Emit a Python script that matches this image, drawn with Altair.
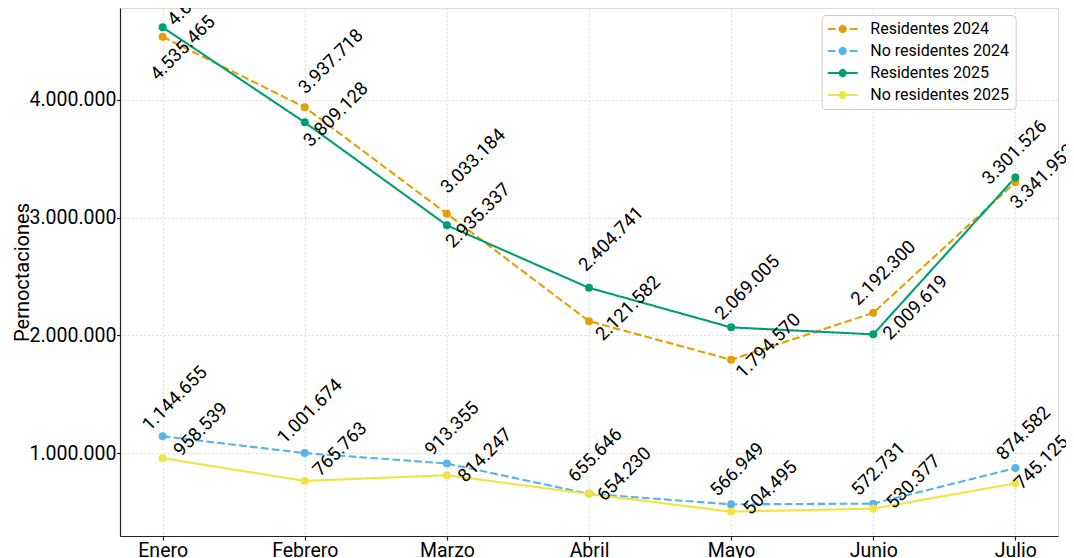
import altair as alt
import pandas as pd

# ---------------- data ----------------
months = ["Enero", "Febrero", "Marzo", "Abril", "Mayo", "Junio", "Julio"]
series_names = ["Residentes 2024", "No residentes 2024", "Residentes 2025", "No residentes 2025"]

residentes_2024 = [4535465, 3937718, 3033184, 2121582, 1794570, 2192300, 3301526]
no_residentes_2024 = [1144655, 1001674, 913355, 655646, 566949, 572731, 874582]
residentes_2025 = [4616374, 3809128, 2935337, 2404741, 2069005, 2009619, 3341952]
no_residentes_2025 = [958539, 765763, 814247, 654230, 504495, 530377, 745125]

y_tick_values = [1000000, 2000000, 3000000, 4000000]

# ---------------- styles ----------------
colors = ["#E69F00", "#56B4E9", "#009E73", "#F0E442"]
dashes = [[7.7, 3.3], [7.7, 3.3], [1, 0], [1, 0]]
widths = [2.1, 2.1, 2.1, 1.4]

Y_MIN, Y_MAX = 298000, 4780000
PLOT_W, PLOT_H = 938, 528

# offset (px) of each value label's centre from its point
label_dx = {
    "Residentes 2024": [20, 26, 26, 39, 37, 10, -1],
    "No residentes 2024": [12, 5, 5, 6, 6, 5, 8],
    "Residentes 2025": [37, 31, 31, 22, 16, 42, 27],
    "No residentes 2025": [38, 35, 38, 35, 39, 40, 26],
}
label_dy = {
    "Residentes 2024": [11, -46, -53, -13, -14, -40, -30],
    "No residentes 2024": [-38, -42, -35, -39, -35, -35, -35],
    "Residentes 2025": [-34, -8, -10, -49, -40, -27, -1],
    "No residentes 2025": [-29, -32, -20, -20, -24, -27, -21],
}

values_by_series = {
    "Residentes 2024": residentes_2024,
    "No residentes 2024": no_residentes_2024,
    "Residentes 2025": residentes_2025,
    "No residentes 2025": no_residentes_2025,
}

rows = []
for s in series_names:
    for i, m in enumerate(months):
        rows.append({
            "month": m, "mi": i, "series": s, "value": values_by_series[s][i],
            "ldx": label_dx[s][i], "ldy": label_dy[s][i],
        })
df = pd.DataFrame(rows)

FONT = "Roboto"
fmt_expr = "replace(format(datum.value, ',d'), /,/g, '.')"
units_per_px = (Y_MAX - Y_MIN) / PLOT_H

x_enc = alt.X(
    "month:N", sort=months,
    scale=alt.Scale(type="point", padding=0.3),
    axis=alt.Axis(
        title=None, labelAngle=0, labelFont=FONT, labelFontSize=19.5, labelColor="black",
        tickSize=4, labelPadding=1.5, domainColor="#222222", tickColor="#222222",
        domainWidth=1.2, tickWidth=1.2, grid=True, gridColor="#d0d0d0",
        gridDash=[1.5, 2.5], gridWidth=0.9,
    ),
)
y_scale = alt.Scale(domain=[Y_MIN, Y_MAX], nice=False, zero=False)
y_enc = alt.Y(
    "value:Q",
    scale=y_scale,
    axis=alt.Axis(
        values=y_tick_values, labelExpr=fmt_expr, title="Pernoctaciones",
        titleFont=FONT, titleFontSize=20, titleFontWeight="normal", titleColor="black",
        titleX=-88, titleY=264, titleAngle=270, titleBaseline="bottom", titleAlign="center",
        labelFont=FONT, labelFontSize=19.5, labelColor="black", tickSize=3.5, labelPadding=0.5,
        domainColor="#222222", tickColor="#222222", domainWidth=1.2, tickWidth=1.2,
        grid=True, gridColor="#d0d0d0", gridDash=[1.5, 2.5], gridWidth=0.9,
    ),
)

line_path = "M-1.333,0L3.667,0"
circle_path = "M1.833,0A0.667,0.667,0,1,1,0.5,0A0.667,0.667,0,1,1,1.833,0Z"
leg_common = dict(
    title=None, orient="none", legendX=701.7, legendY=7, symbolSize=144,
    padding=6, rowPadding=6, labelOffset=26.6, labelFont=FONT, labelFontSize=16,
    labelColor="black", symbolStrokeWidth=2.1,
)
line_legend = alt.Legend(symbolType=line_path, strokeColor="#cccccc", fillColor="white",
                         cornerRadius=4, **leg_common)
point_legend = alt.Legend(symbolType=circle_path, labelOpacity=0, **leg_common)

color_scale = alt.Scale(domain=series_names, range=colors)

lines = alt.Chart(df).mark_line().encode(
    x=x_enc, y=y_enc,
    color=alt.Color("series:N", scale=color_scale, legend=line_legend),
    strokeDash=alt.StrokeDash("series:N", scale=alt.Scale(domain=series_names, range=dashes),
                              legend=line_legend),
    strokeWidth=alt.StrokeWidth("series:N", scale=alt.Scale(domain=series_names, range=widths),
                                legend=None),
    order=alt.Order("mi:Q"),
)

points = alt.Chart(df).mark_point(filled=True, size=64, opacity=1).encode(
    x=x_enc, y=y_enc,
    color=alt.Color("series:N", scale=color_scale, legend=point_legend),
)

labels = alt.Chart(df).transform_calculate(
    label=fmt_expr,
    label_y=f"datum.value - datum.ldy * {units_per_px}",
).mark_text(
    angle=315, align="center", baseline="middle", font=FONT, fontSize=18.5, color="black",
).encode(
    x=x_enc,
    y=alt.Y("label_y:Q", scale=y_scale),
    xOffset=alt.XOffset("ldx:Q", scale=None),
    text="label:N",
)

chart = alt.layer(lines, points, labels).resolve_legend(
    color="independent", strokeDash="independent"
).properties(
    width=PLOT_W, height=PLOT_H,
    autosize=alt.AutoSizeParams(type="none"),
    padding={"left": 112, "top": 0, "right": 8, "bottom": 22},
).configure_view(stroke=None).configure(background="white")

chart.save("out.html", embed_options={"renderer": "svg", "actions": False})
